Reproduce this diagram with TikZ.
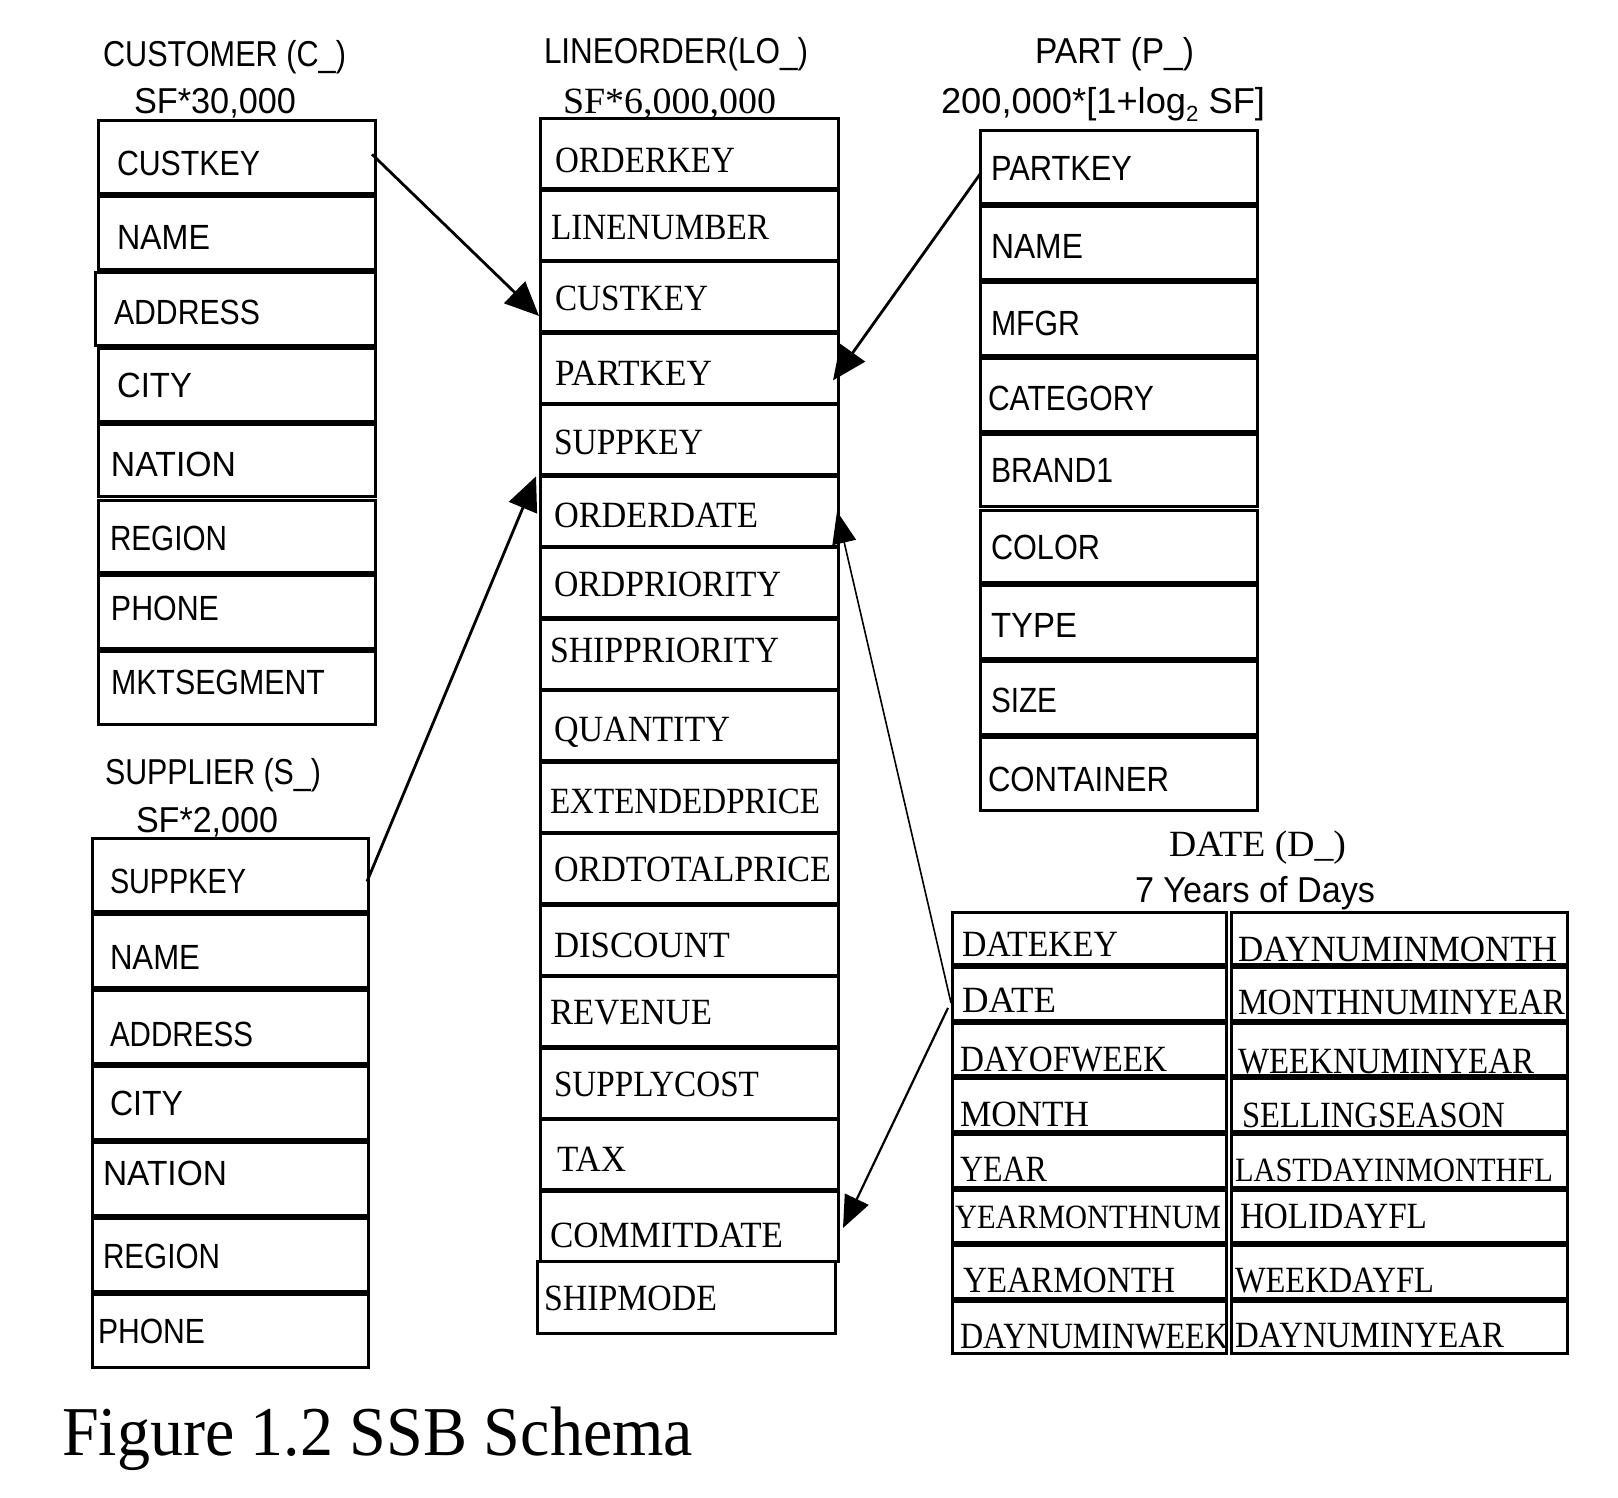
\documentclass[tikz,border=0pt]{standalone}
\usepackage{fontspec}
\usepackage{graphicx}
\usetikzlibrary{arrows.meta,calc}
\newfontfamily\sansf{Liberation Sans}
\newfontfamily\serf{Liberation Serif}
% one drawing unit = 0.5pt
\newdimen\pxu \pxu=0.5pt
% set a text squeezed to a given width (in drawing units)
\newcommand{\fw}[2]{\resizebox{#1\pxu}{\height}{#2}}
\newcommand{\fwh}[3]{\resizebox{#1\pxu}{#2\height}{#3}}

\begin{document}
\begin{tikzpicture}[x=0.5pt,y=-0.5pt,
  row/.style={draw, line width=1.5pt, inner sep=0pt, outer sep=0pt, anchor=north west},
  stxt/.style={inner sep=0pt, outer sep=0pt, anchor=base west, font=\sansf\fontsize{17.5}{20}\selectfont},
  rtxt/.style={inner sep=0pt, outer sep=0pt, anchor=base west, font=\serf\fontsize{18.5}{22}\selectfont},
  stitle/.style={inner sep=0pt, outer sep=0pt, anchor=base west, font=\sansf\fontsize{18}{21}\selectfont},
  rtitle/.style={inner sep=0pt, outer sep=0pt, anchor=base west, font=\serf\fontsize{18.5}{22}\selectfont},
  link/.style={line width=1.4pt, -{Triangle[length=17pt,width=15pt]}},
  thinlink/.style={line width=0.8pt, -{Triangle[length=16pt,width=12pt]}},
  midlink/.style={line width=1.1pt, -{Triangle[length=16pt,width=13pt]}}
]
\fill[white] (0,0) rectangle (1618,1498);
\useasboundingbox (0,0) rectangle (1618,1498);

% ---------- CUSTOMER ----------
\node[stitle] (ctit) at (103,67) {\fw{243}{CUSTOMER (C\_)}};
\node[stitle] (csf) at (134,113.5) {\fw{162}{SF*30,000}};
\foreach \i/\x/\ww in {1/98/277,2/98/277,3/95/280,4/98/277,5/98/277,6/98/277,7/98/277,8/98/277}
  \node[row, minimum width={\ww*0.5pt}, minimum height={72.6*0.5pt}] (c\i) at (\x,{121+(\i-1)*75.8}) {};
\foreach \i/\txt/\x/\y/\ww in {1/CUSTKEY/117/175.5/143, 2/NAME/117/249.5/93, 3/ADDRESS/114/324.5/146,
    4/CITY/117/397.5/75, 5/NATION/111/476.5/125, 6/REGION/110/550.5/117, 7/PHONE/111/620.5/108,
    8/MKTSEGMENT/111/694.5/214}
  \node[stxt] (ct\i) at (\x,\y) {\fw{\ww}{\txt}};

% ---------- LINEORDER ----------
\node[stitle] (lotit) at (544,64) {\fw{264}{LINEORDER(LO\_)}};
\node[rtitle] (losf) at (563,113.5) {\fw{213}{SF*6,000,000}};
\foreach \i in {1,...,16}
  \node[row, minimum width={298*0.5pt}, minimum height={69.97*0.5pt}] (lo\i) at (540,{119+(\i-1)*71.47}) {};
\node[row, minimum width={298*0.5pt}, minimum height={72*0.5pt}] (lo17) at (537,1261) {};
\foreach \i/\txt/\x/\y/\ww in {1/ORDERKEY/555/172.5/180, 2/LINENUMBER/551/239.5/218, 3/CUSTKEY/555/310.5/153,
    4/PARTKEY/555/385.5/157, 5/SUPPKEY/554/454.5/149, 6/ORDERDATE/554/527.5/204,
    7/ORDPRIORITY/554/596.5/227, 8/SHIPPRIORITY/550/662.5/229, 9/QUANTITY/554/741.5/176,
    10/EXTENDEDPRICE/550/813.5/270, 11/ORDTOTALPRICE/554/881.5/277, 12/DISCOUNT/554/957.5/176,
    13/REVENUE/550/1024.5/162, 14/SUPPLYCOST/554/1096.5/205, 15/TAX/557/1171.5/69,
    16/COMMITDATE/550/1247.5/233, 17/SHIPMODE/544/1310.5/173}
  \node[rtxt] (lot\i) at (\x,\y) {\fw{\ww}{\txt}};

% ---------- PART ----------
\node[stitle] (ptit) at (1035,64) {\fw{159}{PART (P\_)}};
\node[stitle] (psf) at (941,113.5) {\fw{324}{200,000*[1+log\raisebox{-4pt}{\fontsize{11}{12}\selectfont 2} SF]}};
\foreach \i in {1,...,9}
  \node[row, minimum width={277*0.5pt}, minimum height={72.6*0.5pt}] (p\i) at (980,{131+(\i-1)*75.8}) {};
\foreach \i/\txt/\x/\y/\ww in {1/PARTKEY/991/180.5/141, 2/NAME/991/258.5/92, 3/MFGR/991/335.5/89,
    4/CATEGORY/988/410.5/166, 5/BRAND1/991/482.5/122, 6/COLOR/991/559.5/109, 7/TYPE/991/637.5/86,
    8/SIZE/991/712.5/66, 9/CONTAINER/988/791.5/181}
  \node[stxt] (pt\i) at (\x,\y) {\fw{\ww}{\txt}};

% ---------- SUPPLIER ----------
\node[stitle] (stit) at (105,784) {\fw{216}{SUPPLIER (S\_)}};
\node[stitle] (ssf) at (136,832) {\fw{142}{SF*2,000}};
\foreach \i in {1,...,7}
  \node[row, minimum width={276*0.5pt}, minimum height={73*0.5pt}] (s\i) at (92,{838+(\i-1)*76.07}) {};
\foreach \i/\txt/\x/\y/\ww in {1/SUPPKEY/110/893.5/136, 2/NAME/110/969.5/90, 3/ADDRESS/110/1046.5/143,
    4/CITY/110/1115.5/73, 5/NATION/103/1185.5/124, 6/REGION/103/1268.5/117, 7/PHONE/98/1343.5/107}
  \node[stxt] (st\i) at (\x,\y) {\fw{\ww}{\txt}};

% ---------- DATE ----------
\node[rtitle] (dtit) at (1169,856.5) {\fw{177}{DATE (D\_)}};
\node[stitle] (dsub) at (1135,902) {\fw{240}{7 Years of Days}};
\foreach \i in {1,...,8} {
  \node[row, minimum width={274*0.5pt}, minimum height={52.6*0.5pt}] (dl\i) at (952,{912+(\i-1)*55.6}) {};
  \node[row, minimum width={336*0.5pt}, minimum height={52.6*0.5pt}] (dr\i) at (1231,{912+(\i-1)*55.6}) {};
}
\foreach \i/\txt/\x/\y/\ww/\hf in {1/DATEKEY/962/956.5/156/1, 2/DATE/962/1012.5/94/1,
    3/DAYOFWEEK/960/1071.5/207/1, 4/MONTH/960/1126.5/129/1, 5/YEAR/960/1181.5/87/1,
    6/YEARMONTHNUM/955/1228.5/266/0.92, 7/YEARMONTH/963/1292.5/212/1, 8/DAYNUMINWEEK/960/1348.5/268/1}
  \node[rtxt] (dlt\i) at (\x,\y) {\fwh{\ww}{\hf}{\txt}};
\foreach \i/\txt/\x/\y/\ww/\hf in {1/DAYNUMINMONTH/1238/961.5/319/1, 2/MONTHNUMINYEAR/1238/1014.5/327/1,
    3/WEEKNUMINYEAR/1238/1073.5/296/1, 4/SELLINGSEASON/1242/1127.5/263/1,
    5/LASTDAYINMONTHFL/1235/1181.5/318/0.92, 6/HOLIDAYFL/1240/1228.5/187/1,
    7/WEEKDAYFL/1235/1292.5/199/1, 8/DAYNUMINYEAR/1235/1347.5/269/1}
  \node[rtxt] (drt\i) at (\x,\y) {\fwh{\ww}{\hf}{\txt}};

% ---------- foreign keys ----------
\draw[link] ($(c1.east)+(-3,-3)$) -- ($(lo3.west)+(-1,19)$);
\draw[link] ($(p1.west)+(1,5.5)$) -- ($(lo4.east)+(-5,12)$);
\draw[link] ($(s1.east)+(-1,7)$) -- ($(lo6.north west)+(-4,0)$);
\draw[thinlink] ($(dl2.west)+(-1,9)$) -- ($(lo6.east)+(-1,0)$);
\draw[midlink] ($(dl2.west)+(-4,14)$) -- ($(lo16.east)+(5,2)$);

% ---------- caption ----------
\node[inner sep=0pt, outer sep=0pt, anchor=base west, font=\serf\fontsize{35}{40}\selectfont] (cap) at (62,1455)
  {\fw{631}{Figure 1.2 SSB Schema}};
\end{tikzpicture}
\end{document}
